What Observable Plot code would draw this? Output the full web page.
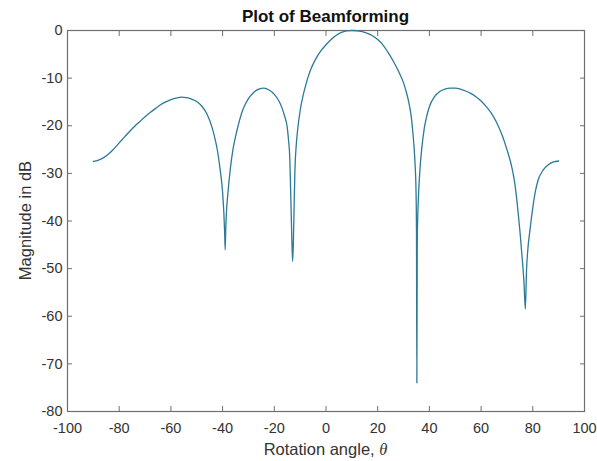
<!DOCTYPE html>
<html>
<head>
<meta charset="utf-8">
<script src="https://cdn.jsdelivr.net/npm/d3@7"></script>
<script src="https://cdn.jsdelivr.net/npm/@observablehq/plot@0.6"></script>
<style>
  body { margin: 0; background: #fff; }
  #chart svg { display: block; }
</style>
</head>
<body>
<div id="chart"></div>
<script>
const titleText = "Plot of Beamforming";
const xLabelText = "Rotation angle, ";
const xLabelSymbol = "θ";
const yLabelText = "Magnitude in dB";
const xTicks = [-100, -80, -60, -40, -20, 0, 20, 40, 60, 80, 100];
const yTicks = [-80, -70, -60, -50, -40, -30, -20, -10, 0];

const theta = [
  -90, -88, -86, -84, -82, -80, -78, -76, -74, -72,
  -70, -68, -66, -64, -62, -60, -58, -56, -54, -52,
  -50, -48, -46, -44, -43, -42, -41, -40, -39.5, -39.2,
  -39, -38.8, -38.5, -38, -37, -36, -35, -34, -33, -32,
  -30, -28, -26, -24, -22, -20, -18, -17, -16, -15,
  -14.5, -14, -13.8, -13.5, -13.2, -12.9, -12.6, -12.3, -12, -11.5,
  -11, -10, -9, -8, -7, -6, -4, -2, 0, 2,
  4, 6, 8, 10, 12, 14, 16, 18, 20, 22,
  24, 26, 28, 30, 31, 32, 33, 33.5, 34, 34.5,
  34.8, 35, 35.15, 35.3, 35.5, 35.8, 36.3, 37, 38, 39,
  40, 42, 44, 46, 48, 50, 52, 54, 56, 58,
  60, 62, 64, 66, 68, 70, 72, 73, 74, 75,
  76, 76.6, 77.1, 77.6, 78, 79, 80, 81, 82, 84,
  86, 88, 90
];
const magnitude = [
  -27.5, -27.2, -26.7, -25.9, -24.8, -23.6, -22.4, -21.2, -20.1, -19.1,
  -18.1, -17.2, -16.4, -15.6, -15.0, -14.5, -14.2, -14.0, -14.1, -14.4,
  -14.9, -15.9, -17.6, -20.5, -22.6, -25.2, -29.0, -34.0, -38.5, -42.5,
  -46.0, -42.0, -38.0, -34.5, -29.0, -25.0, -22.3, -20.0, -18.0, -16.4,
  -14.3, -13.0, -12.3, -12.1, -12.5, -13.4, -15.0, -16.3, -18.0, -20.3,
  -23.0, -27.0, -31.0, -37.5, -44.0, -48.5, -44.0, -36.0, -29.0, -24.0,
  -21.0, -16.8, -14.0, -11.8, -9.9, -8.3, -6.0, -4.3, -3.0, -1.9,
  -1.0, -0.4, -0.1, 0.0, -0.05, -0.25, -0.6, -1.1, -1.9, -3.0,
  -4.6, -6.4, -8.5, -11.0, -12.8, -15.0, -18.2, -20.8, -24.0, -28.5,
  -33.0, -42.0, -74.0, -45.0, -39.0, -34.4, -29.5, -25.0, -20.6, -17.9,
  -16.0, -13.9, -12.8, -12.3, -12.1, -12.1, -12.3, -12.7, -13.2, -13.9,
  -14.8, -16.0, -17.4, -19.3, -21.8, -25.0, -29.0, -32.0, -36.5, -42.0,
  -48.5, -53.0, -58.5, -50.0, -46.5, -41.5, -37.2, -33.8, -31.5, -29.3,
  -28.2, -27.6, -27.4
];

const data = theta.map((t, i) => ({theta: t, mag: magnitude[i]}));
const axisColor = "#6e6e6e";
const textColor = "#333333";
const fmt = d => String(d);

const chart = Plot.plot({
  width: 597,
  height: 461,
  marginLeft: 67,
  marginRight: 13,
  marginTop: 30,
  marginBottom: 50,
  style: {fontFamily: "'Liberation Sans', Arial, Helvetica, sans-serif", fontSize: "14.5px", color: textColor, background: "#fff"},
  x: {domain: [-100, 100]},
  y: {domain: [-80, 0]},
  marks: [
    Plot.axisX(xTicks, {anchor: "bottom", tickSize: 0, tickPadding: 11, label: null, fill: textColor, tickFormat: fmt}),
    Plot.axisX(xTicks, {anchor: "bottom", tickSize: -5, text: null, label: null, stroke: axisColor}),
    Plot.axisX(xTicks, {anchor: "top", tickSize: -5, text: null, label: null, stroke: axisColor}),
    Plot.axisY(yTicks, {anchor: "left", tickSize: 0, tickPadding: 5, label: null, fill: textColor, tickFormat: fmt}),
    Plot.axisY(yTicks, {anchor: "left", tickSize: -5, text: null, label: null, stroke: axisColor}),
    Plot.axisY(yTicks, {anchor: "right", tickSize: -5, text: null, label: null, stroke: axisColor}),
    Plot.frame({stroke: axisColor, strokeWidth: 1.2}),
    Plot.line(data, {x: "theta", y: "mag", stroke: "#2b7a98", strokeWidth: 1.3, curve: "monotone-x"})
  ]
});

document.getElementById("chart").appendChild(chart);

const svg = d3.select(chart);
svg.append("text")
  .attr("x", 325.5).attr("y", 22)
  .attr("text-anchor", "middle")
  .attr("font-weight", "bold")
  .attr("font-size", "17px")
  .attr("fill", "#111")
  .text(titleText);

const xl = svg.append("text")
  .attr("x", 325.5).attr("y", 455)
  .attr("text-anchor", "middle")
  .attr("font-size", "16.5px")
  .attr("fill", textColor);
xl.append("tspan").text(xLabelText);
xl.append("tspan").attr("font-style", "italic").attr("font-family", "'Liberation Serif', 'Times New Roman', serif").text(xLabelSymbol);

svg.append("text")
  .attr("transform", "translate(31,220.5) rotate(-90)")
  .attr("text-anchor", "middle")
  .attr("font-size", "16.5px")
  .attr("fill", textColor)
  .text(yLabelText);
</script>
</body>
</html>
